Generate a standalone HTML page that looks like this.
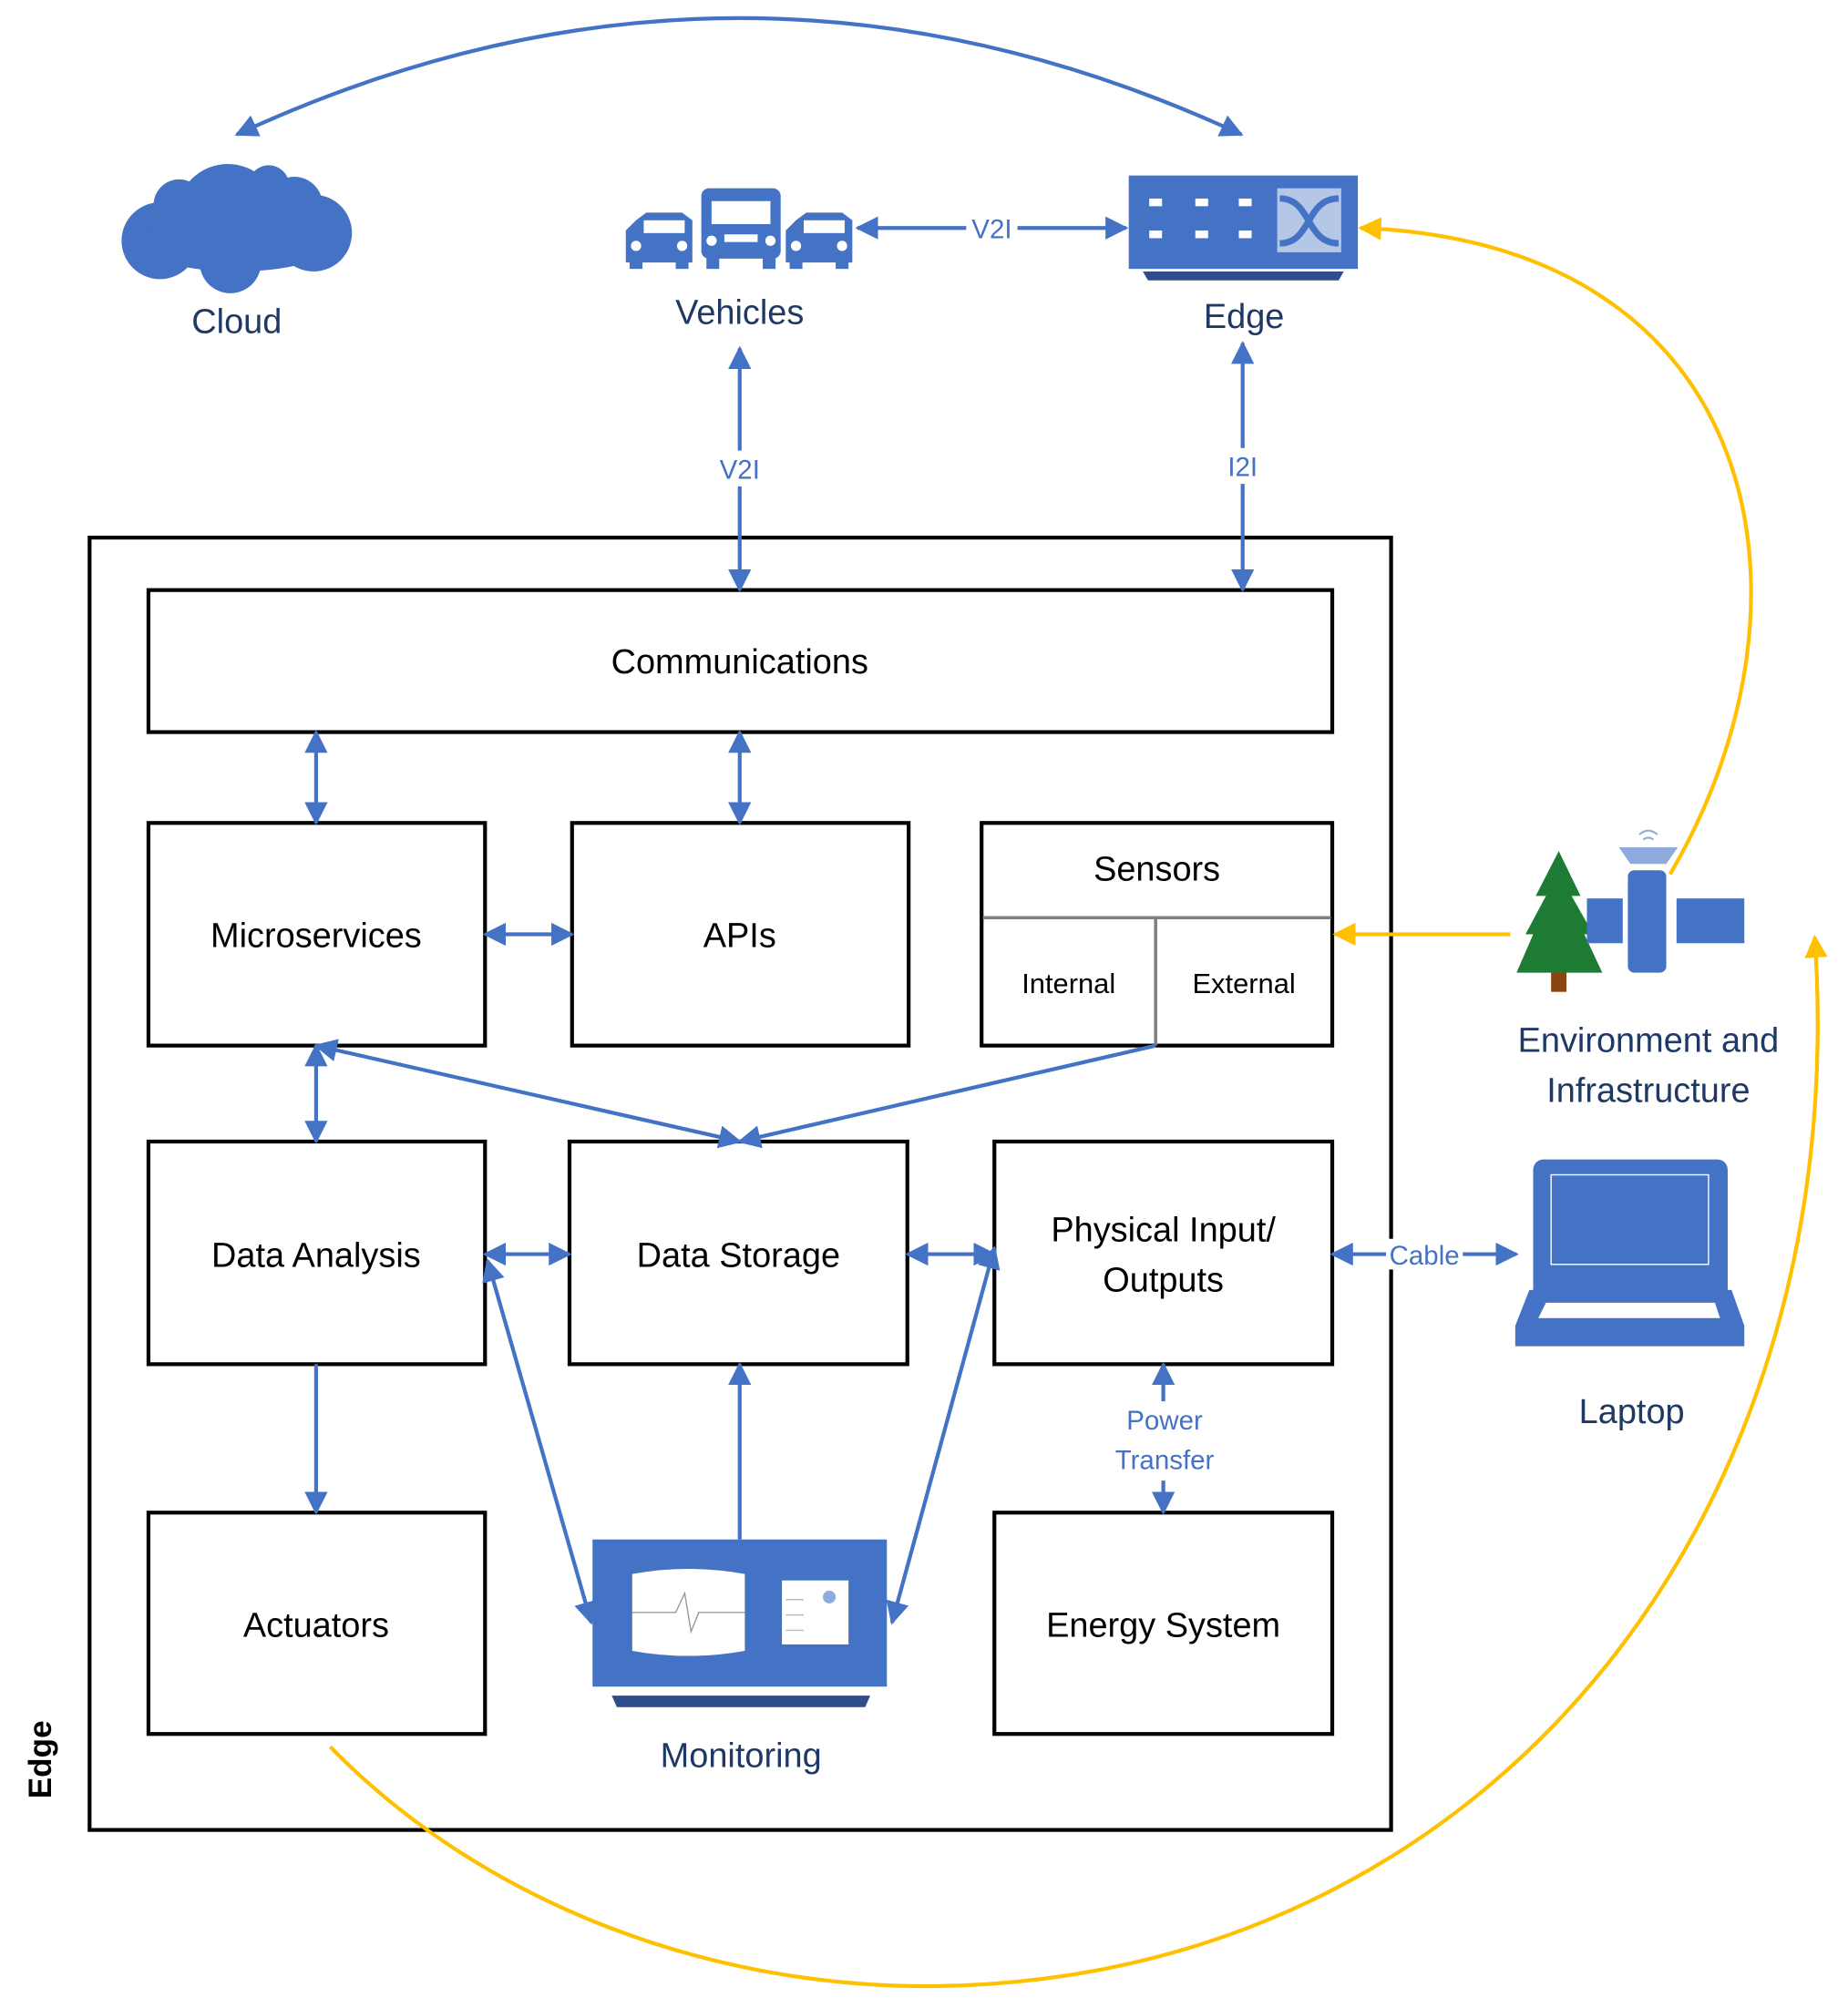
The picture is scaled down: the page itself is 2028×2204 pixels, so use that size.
<!DOCTYPE html>
<html><head><meta charset="utf-8"><style>html,body{margin:0;padding:0;background:#fff}svg{display:block}</style></head><body>
<svg width="2028" height="2204" viewBox="0 0 1444 1569" xmlns="http://www.w3.org/2000/svg" font-family="'Liberation Sans', sans-serif">
<defs>
<marker id="y" viewBox="0 0 10 10" refX="9" refY="5" markerWidth="18" markerHeight="18" orient="auto-start-reverse" markerUnits="userSpaceOnUse"><path d="M0,0 L10,5 L0,10 z" fill="#FFC000"/></marker>
<marker id="b" viewBox="0 0 10 10" refX="9" refY="5" markerWidth="18" markerHeight="18" orient="auto-start-reverse" markerUnits="userSpaceOnUse"><path d="M0,0 L10,5 L0,10 z" fill="#4472C4"/></marker>
</defs>
<g fill="none" stroke="#000" stroke-width="3">
<rect x="70" y="420" width="1017" height="1010"/>
<rect x="116" y="461" width="925" height="111"/>
<rect x="116" y="643" width="263" height="174"/>
<rect x="447" y="643" width="263" height="174"/>
<rect x="767" y="643" width="274" height="174"/>
<rect x="116" y="892" width="263" height="174"/>
<rect x="445" y="892" width="264" height="174"/>
<rect x="777" y="892" width="264" height="174"/>
<rect x="116" y="1182" width="263" height="173"/>
<rect x="777" y="1182" width="264" height="173"/>
</g>
<path d="M768,717 H1040 M903,717 V817" stroke="#808080" stroke-width="2.5" fill="none"/>
<g font-size="27" text-anchor="middle" fill="#000">
<text x="578" y="526">Communications</text>
<text x="247" y="740">Microservices</text>
<text x="578" y="740">APIs</text>
<text x="904" y="688">Sensors</text>
<text x="247" y="990">Data Analysis</text>
<text x="577" y="990">Data Storage</text>
<text x="909" y="970">Physical Input/</text>
<text x="909" y="1009">Outputs</text>
<text x="247" y="1279">Actuators</text>
<text x="909" y="1279">Energy System</text>
<text x="835" y="776" font-size="22">Internal</text>
<text x="972" y="776" font-size="22">External</text>
</g>
<text transform="translate(40,1375) rotate(-90)" font-size="25" font-weight="bold" text-anchor="middle">Edge</text>
<g fill="none" stroke="#4472C4" stroke-width="3" marker-start="url(#b)" marker-end="url(#b)">
<path d="M185,105 Q578,-77 970,105"/>
<path d="M670,178 H880"/>
<path d="M578,272 V461"/>
<path d="M971,268 V461"/>
<path d="M247,572 V643"/>
<path d="M578,572 V643"/>
<path d="M379,730 H447"/>
<path d="M247,817 V892"/>
<path d="M247,817 L578,892"/>
<path d="M379,980 H445"/>
<path d="M709,980 H777"/>
<path d="M1041,980 H1185"/>
<path d="M909,1066 V1182"/>
<path d="M381,985 L462,1268"/>
<path d="M697,1268 L777,975"/>
</g>
<g fill="none" stroke="#4472C4" stroke-width="3" marker-end="url(#b)">
<path d="M903,817 L578,892"/>
<path d="M247,1066 V1182"/>
<path d="M578,1203 V1066"/>
</g>
<g fill="none" stroke="#FFC000" stroke-width="3" marker-end="url(#y)">
<path d="M1180,730 H1043"/>
<path d="M1305,683 C1430,470 1380,190 1063,178"/>
<path d="M258,1365 C380,1490 560,1555 735,1552 C1150,1545 1450,1200 1418,732"/>
</g>
<g font-size="21" fill="#4472C4" text-anchor="middle">
<rect x="755" y="166" width="40" height="24" fill="#fff"/><text x="775" y="186">V2I</text>
<rect x="556" y="352" width="44" height="28" fill="#fff"/><text x="578" y="374">V2I</text>
<rect x="952" y="350" width="38" height="28" fill="#fff"/><text x="971" y="372">I2I</text>
<rect x="1083" y="968" width="60" height="24" fill="#fff"/><text x="1113" y="988">Cable</text>
<rect x="860" y="1095" width="100" height="62" fill="#fff"/><text x="910" y="1117">Power</text><text x="910" y="1148">Transfer</text>
</g>
<g font-size="27" fill="#1F3864" text-anchor="middle">
<text x="185" y="260">Cloud</text>
<text x="578" y="253">Vehicles</text>
<text x="972" y="256">Edge</text>
<text x="1288" y="822">Environment and</text>
<text x="1288" y="861">Infrastructure</text>
<text x="1275" y="1112">Laptop</text>
<text x="579" y="1381">Monitoring</text>
</g>
<!-- cloud -->
<g fill="#4472C4">
<circle cx="178" cy="168" r="40"/><circle cx="140" cy="160" r="20"/><circle cx="230" cy="160" r="22"/><circle cx="245" cy="182" r="30"/><circle cx="125" cy="188" r="30"/><circle cx="180" cy="205" r="24"/><ellipse cx="185" cy="190" rx="75" ry="22"/><circle cx="210" cy="145" r="16"/>
</g>
<!-- vehicles -->
<g fill="#4472C4">
<path d="M497,172 L505,166 H533 L541,172 V205 H489 V180 z"/><rect x="492" y="198" width="10" height="12"/><rect x="528" y="198" width="10" height="12"/>
<rect x="548" y="147" width="62" height="55" rx="6"/><rect x="552" y="196" width="10" height="14"/><rect x="596" y="196" width="10" height="14"/>
<path d="M622,172 L630,166 H658 L666,172 V205 H614 V180 z"/><rect x="617" y="198" width="10" height="12"/><rect x="653" y="198" width="10" height="12"/>
<g fill="#fff"><rect x="503" y="172" width="32" height="10"/><rect x="628" y="172" width="32" height="10"/><rect x="556" y="157" width="46" height="18"/><circle cx="497" cy="192" r="4"/><circle cx="533" cy="192" r="4"/><circle cx="622" cy="192" r="4"/><circle cx="658" cy="192" r="4"/><circle cx="556" cy="188" r="4"/><circle cx="602" cy="188" r="4"/><rect x="566" y="183" width="26" height="6"/></g>
</g>
<!-- edge device -->
<rect x="882" y="137" width="179" height="73" fill="#4472C4"/>
<path d="M893,212 H1050 L1046,219 H897 z" fill="#2F4D8A"/>
<g fill="#fff"><rect x="898" y="155" width="10" height="6"/><rect x="934" y="155" width="10" height="6"/><rect x="968" y="155" width="10" height="6"/><rect x="898" y="180" width="10" height="6"/><rect x="934" y="180" width="10" height="6"/><rect x="968" y="180" width="10" height="6"/></g>
<rect x="998" y="147" width="50" height="50" fill="#B4C7E7"/>
<path d="M1000,155 C1025,155 1020,190 1046,190 M1000,190 C1025,190 1020,155 1046,155" stroke="#4472C4" stroke-width="5" fill="none"/>
<!-- tree -->
<rect x="1212" y="745" width="12" height="30" fill="#8B4513"/>
<path d="M1218,665 L1235,700 L1228,700 L1245,730 L1238,730 L1252,760 H1185 L1198,730 L1192,730 L1208,700 L1200,700 z" fill="#1E7B34"/>
<!-- satellite -->
<g fill="#4472C4"><rect x="1240" y="702" width="28" height="35"/><rect x="1310" y="702" width="53" height="35"/><rect x="1272" y="680" width="30" height="80" rx="5"/></g>
<path d="M1265,662 H1311 L1302,675 H1274 z" fill="#8FAADC"/>
<path d="M1281,652 q7,-6 14,0 M1284,656 q4,-3 8,0" stroke="#8FAADC" stroke-width="1.5" fill="none"/>
<!-- laptop -->
<rect x="1198" y="906" width="152" height="120" rx="8" fill="#4472C4"/>
<rect x="1212" y="918" width="123" height="70" fill="none" stroke="#fff" stroke-width="1"/>
<path d="M1195,1008 H1353 L1363,1036 V1052 H1184 V1036 z" fill="#4472C4"/>
<path d="M1208,1018 H1340 L1344,1030 H1202 z" fill="#fff"/>
<!-- monitoring -->
<rect x="463" y="1203" width="230" height="115" fill="#4472C4"/>
<path d="M478,1325 H680 L676,1334 H482 z" fill="#2F4D8A"/>
<path d="M494,1230 Q538,1222 582,1230 V1290 Q538,1298 494,1290 z" fill="#fff"/>
<path d="M494,1260 H528 L535,1245 L540,1275 L546,1260 H582" stroke="#999" stroke-width="1" fill="none"/>
<rect x="611" y="1235" width="52" height="50" fill="#fff"/>
<circle cx="648" cy="1248" r="5" fill="#8FAADC"/>
<path d="M614,1250 H628 M614,1262 H628 M614,1274 H628" stroke="#bbb" stroke-width="1"/>
</svg>
</body></html>
